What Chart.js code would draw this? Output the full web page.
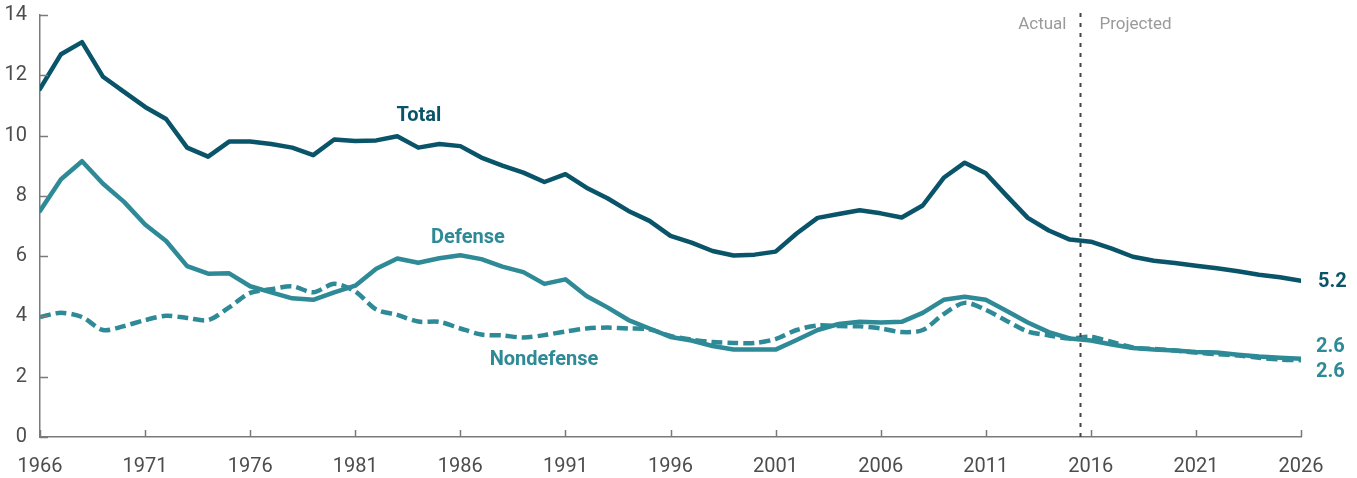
<!DOCTYPE html>
<html>
<head>
<meta charset="utf-8">
<script src="https://cdn.jsdelivr.net/npm/chart.js@4/dist/chart.umd.min.js"></script>
<style>
  html, body { margin: 0; padding: 0; background: #ffffff; }
  #wrap { width: 1357px; height: 478px; position: relative; }
</style>
</head>
<body>
<div id="wrap"><canvas id="c" width="1357" height="478"></canvas></div>
<script>
// ---- Data ----
const years = [];
for (let y = 1966; y <= 2026; y++) years.push(y);

const totalValues = [
  11.55, 12.7, 13.1, 11.95, 11.45, 10.95, 10.55, 9.6, 9.3, 9.8,
  9.8, 9.72, 9.6, 9.35, 9.87, 9.82, 9.84, 9.98, 9.6, 9.72,
  9.65, 9.27, 9.0, 8.77, 8.46, 8.72, 8.27, 7.92, 7.5, 7.17,
  6.67, 6.45, 6.17, 6.02, 6.05, 6.15, 6.75, 7.27, 7.4, 7.52,
  7.42, 7.28, 7.68, 8.6, 9.1, 8.75, 8.0, 7.27, 6.85, 6.55,
  6.48, 6.25, 5.98, 5.85, 5.77, 5.68, 5.6, 5.5, 5.38, 5.3,
  5.18
];
const defenseValues = [
  7.5, 8.55, 9.15, 8.4, 7.8, 7.05, 6.5, 5.67, 5.42, 5.43,
  5.0, 4.8, 4.6, 4.55, 4.8, 5.02, 5.58, 5.92, 5.78, 5.93,
  6.03, 5.9, 5.65, 5.47, 5.08, 5.23, 4.68, 4.3, 3.88, 3.6,
  3.32, 3.2, 3.02, 2.9, 2.9, 2.9, 3.22, 3.55, 3.75, 3.82,
  3.8, 3.82, 4.12, 4.55, 4.65, 4.55, 4.18, 3.8, 3.48, 3.27,
  3.2, 3.07, 2.95, 2.9, 2.87, 2.82, 2.8, 2.73, 2.67, 2.63,
  2.6
];
const nondefenseValues = [
  3.98, 4.12, 3.98, 3.55, 3.68, 3.88, 4.02, 3.95, 3.88, 4.3,
  4.78, 4.9, 5.0, 4.8, 5.08, 4.83, 4.23, 4.05, 3.83, 3.82,
  3.6, 3.4, 3.37, 3.3, 3.38, 3.5, 3.6, 3.63, 3.6, 3.57,
  3.35, 3.23, 3.15, 3.12, 3.12, 3.25, 3.55, 3.7, 3.68, 3.67,
  3.6, 3.48, 3.55, 4.08, 4.45, 4.22, 3.85, 3.5, 3.37, 3.27,
  3.32, 3.15, 2.97, 2.92, 2.87, 2.8, 2.75, 2.7, 2.63, 2.57,
  2.55
];
const xTickYears = [1966, 1971, 1976, 1981, 1986, 1991, 1996, 2001, 2006, 2011, 2016, 2021, 2026];
const yTickValues = [0, 2, 4, 6, 8, 10, 12, 14];
const endLabels = ["5.2", "2.6", "2.6"];
const seriesNames = ["Total", "Defense", "Nondefense"];
const dividerYear = 2015.5;
const dividerTexts = ["Actual", "Projected"];

// ---- Styles ----
const C_TOTAL = "#0a5469";
const C_TEAL = "#2e8a96";
const C_AXIS = "#7a7a7a";
const C_TICKTXT = "#4d4d4d";
const FONT = "Roboto, 'Liberation Sans', sans-serif";

const toPts = vals => vals.map((v, i) => ({ x: years[i], y: v }));

const overlay = {
  id: 'overlay',
  afterDatasetsDraw(chart) {
    const ctx = chart.ctx;
    const xs = chart.scales.x, ys = chart.scales.y;
    const area = chart.chartArea;
    ctx.save();
    // inner tick marks
    ctx.strokeStyle = C_AXIS;
    ctx.lineWidth = 1.5;
    xTickYears.forEach(yr => {
      const px = Math.round(xs.getPixelForValue(yr)) + 0.5;
      ctx.beginPath();
      ctx.moveTo(px, area.bottom);
      ctx.lineTo(px, area.bottom - 7);
      ctx.stroke();
    });
    yTickValues.forEach(v => {
      const py = Math.round(ys.getPixelForValue(v)) + 0.5;
      ctx.beginPath();
      ctx.moveTo(area.left, py);
      ctx.lineTo(area.left + 8, py);
      ctx.stroke();
    });
    // divider
    const dx = Math.round(xs.getPixelForValue(dividerYear)) + 0.5;
    ctx.strokeStyle = "#444444";
    ctx.lineWidth = 2;
    ctx.setLineDash([4, 6]);
    ctx.beginPath();
    ctx.moveTo(dx, area.top - 2);
    ctx.lineTo(dx, area.bottom);
    ctx.stroke();
    ctx.setLineDash([]);
    // Actual / Projected
    ctx.font = "17px " + FONT;
    ctx.fillStyle = "#9a9a9a";
    ctx.textBaseline = "middle";
    ctx.textAlign = "right";
    ctx.fillText(dividerTexts[0], dx - 14, ys.getPixelForValue(13.67));
    ctx.textAlign = "left";
    ctx.fillText(dividerTexts[1], dx + 19, ys.getPixelForValue(13.67));
    // series labels
    ctx.font = "bold 20px " + FONT;
    ctx.textAlign = "center";
    ctx.fillStyle = C_TOTAL;
    ctx.fillText(seriesNames[0], xs.getPixelForValue(1984.03), ys.getPixelForValue(10.65));
    ctx.fillStyle = C_TEAL;
    ctx.fillText(seriesNames[1], xs.getPixelForValue(1986.36), ys.getPixelForValue(6.6));
    ctx.fillText(seriesNames[2], xs.getPixelForValue(1989.98), ys.getPixelForValue(2.55));
    // end value labels
    ctx.textAlign = "left";
    const ex = xs.getPixelForValue(2026) + 15;
    ctx.fillStyle = C_TOTAL;
    ctx.fillText(endLabels[0], ex + 2, ys.getPixelForValue(5.15));
    ctx.fillStyle = C_TEAL;
    ctx.fillText(endLabels[1], ex, ys.getPixelForValue(3.0));
    ctx.fillText(endLabels[2], ex, ys.getPixelForValue(2.17));
    ctx.restore();
  }
};

new Chart(document.getElementById('c'), {
  type: 'line',
  data: {
    datasets: [
      { label: seriesNames[0], data: toPts(totalValues), borderColor: C_TOTAL, borderWidth: 4.5, pointRadius: 0, tension: 0, order: 3, borderCapStyle: 'round', borderJoinStyle: 'round' },
      { label: seriesNames[1], data: toPts(defenseValues), borderColor: C_TEAL, borderWidth: 4.5, pointRadius: 0, tension: 0, order: 2, borderCapStyle: 'round', borderJoinStyle: 'round' },
      { label: seriesNames[2], data: toPts(nondefenseValues), borderColor: C_TEAL, borderWidth: 4.5, pointRadius: 0, tension: 0.3, order: 1, borderDash: [11, 5] }
    ]
  },
  options: {
    responsive: false,
    animation: false,
    events: [],
    layout: { padding: { top: 15, right: 56, left: 0, bottom: 0 } },
    plugins: { legend: { display: false }, tooltip: { enabled: false } },
    scales: {
      x: {
        type: 'linear', min: 1966, max: 2026,
        afterBuildTicks: s => { s.ticks = xTickYears.map(v => ({ value: v })); },
        afterFit: s => { s.height = 41; s.paddingLeft = 0; s.paddingRight = 0; },
        grid: { display: false, drawTicks: false },
        border: { display: true, color: C_AXIS, width: 1.5 },
        ticks: { padding: 18, color: C_TICKTXT, font: { family: FONT, size: 20 }, maxRotation: 0, autoSkip: false, callback: v => String(v) }
      },
      y: {
        min: 0, max: 14,
        afterBuildTicks: s => { s.ticks = yTickValues.map(v => ({ value: v })); },
        afterFit: s => { s.width = 40; s.paddingTop = 0; s.paddingBottom = 0; },
        grid: { display: false, drawTicks: false },
        border: { display: true, color: C_AXIS, width: 1.5 },
        ticks: { padding: 13, color: C_TICKTXT, font: { family: FONT, size: 20 } }
      }
    }
  },
  plugins: [overlay]
});
</script>
</body>
</html>
